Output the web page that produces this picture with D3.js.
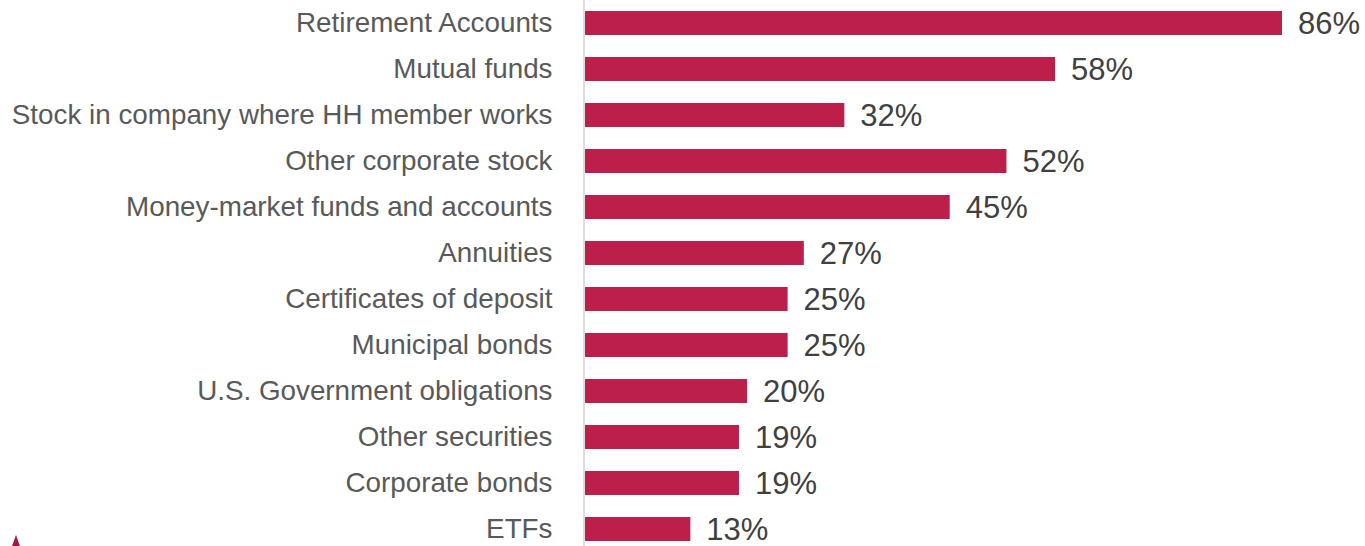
<!DOCTYPE html>
<html>
<head>
<meta charset="utf-8">
<script src="https://cdn.jsdelivr.net/npm/d3@7"></script>
<style>
  html, body { margin: 0; padding: 0; background: #fff; }
  svg { display: block; }
</style>
</head>
<body>
<svg id="chart" width="1365" height="546"></svg>
<script>
// Share of households holding each asset type
const categories = [
  "Retirement Accounts",
  "Mutual funds",
  "Stock in company where HH member works",
  "Other corporate stock",
  "Money-market funds and accounts",
  "Annuities",
  "Certificates of deposit",
  "Municipal bonds",
  "U.S. Government obligations",
  "Other securities",
  "Corporate bonds",
  "ETFs"
];
const values = [86, 58, 32, 52, 45, 27, 25, 25, 20, 19, 19, 13];

const width = 1365, height = 546;
const svg = d3.select("#chart");
const font = "Arial, 'Liberation Sans', Helvetica, sans-serif";

const x = d3.scaleLinear().domain([0, 86]).range([585, 1282]);
const y = d3.scaleBand().domain(categories).range([0, 552]).paddingInner(22 / 46).paddingOuter(11 / 46);

// Bars
svg.append("g").selectAll("rect")
  .data(values)
  .join("rect")
  .attr("x", x(0))
  .attr("y", (d, i) => y(categories[i]))
  .attr("width", d => x(d) - x(0))
  .attr("height", y.bandwidth())
  .attr("fill", "#BC1F4A");

// Category axis (left), drawn with d3.axisLeft
const yAxis = svg.append("g")
  .attr("transform", `translate(${x(0) - 0.5},0)`)
  .call(d3.axisLeft(y).tickSize(0).tickPadding(32));
yAxis.select(".domain").remove();
yAxis.selectAll("text")
  .attr("font-family", font)
  .attr("font-size", 27.8)
  .attr("fill", "#595959");

// Axis baseline
svg.append("line")
  .attr("x1", x(0) - 1).attr("x2", x(0) - 1)
  .attr("y1", 0).attr("y2", height)
  .attr("stroke", "#d0d0d0")
  .attr("stroke-width", 1.5);

// Value labels
svg.append("g").selectAll("text")
  .data(values)
  .join("text")
  .attr("x", d => x(d) + 16)
  .attr("y", (d, i) => y(categories[i]) + y.bandwidth() / 2)
  .attr("dy", "0.36em")
  .attr("font-family", font)
  .attr("font-size", 31)
  .attr("fill", "#404040")
  .text(d => d + "%");

// Small marker in the lower-left corner
svg.append("path")
  .attr("d", "M16,535 L11,549 L21,549 Z")
  .attr("fill", "#A0184A");
</script>
</body>
</html>
